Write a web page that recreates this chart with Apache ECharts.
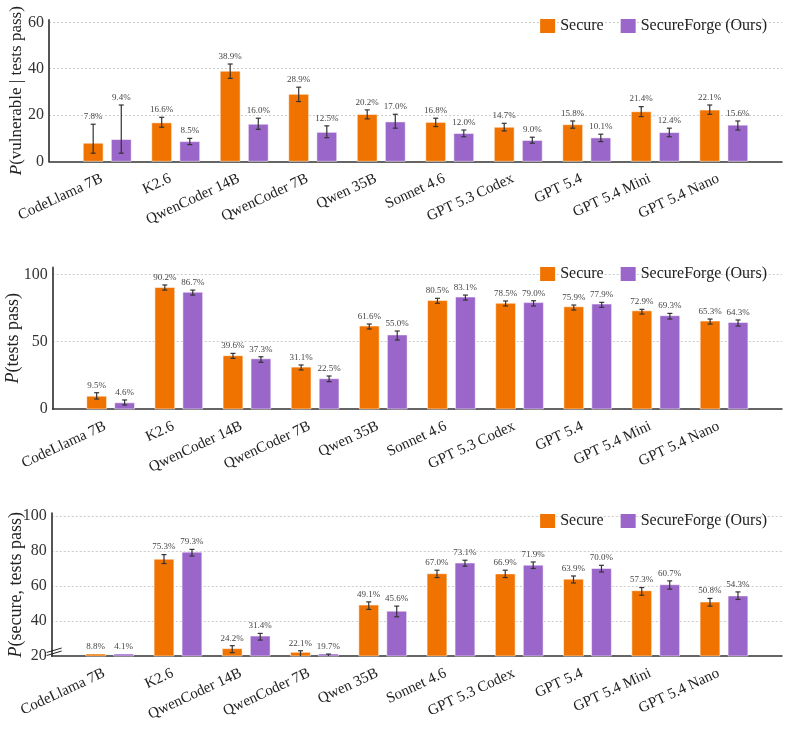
<!DOCTYPE html>
<html>
<head>
<meta charset="utf-8">
<script src="https://cdn.jsdelivr.net/npm/echarts@6/dist/echarts.min.js"></script>
<style>
  html, body { margin: 0; padding: 0; background: #fff; }
  #chart { width: 788px; height: 731px; }
</style>
</head>
<body>
<div id="chart"></div>
<script>
// 模型名称
const categories = ["CodeLlama 7B", "K2.6", "QwenCoder 14B", "QwenCoder 7B", "Qwen 35B",
    "Sonnet 4.6", "GPT 5.3 Codex", "GPT 5.4", "GPT 5.4 Mini", "GPT 5.4 Nano"];
const seriesNames = ["Secure", "SecureForge (Ours)"];

// P(vulnerable | tests pass)
const vulnSecure = [7.8, 16.6, 38.9, 28.9, 20.2, 16.8, 14.7, 15.8, 21.4, 22.1];
const vulnSecureLo = [3.5, 14.7, 35.8, 25.8, 18.3, 15.0, 13.1, 14.3, 19.3, 20.3];
const vulnSecureHi = [16.0, 19.0, 42.0, 32.0, 22.2, 18.6, 16.4, 17.4, 23.6, 24.3];
const vulnForge = [9.4, 8.5, 16.0, 12.5, 17.0, 12.0, 9.0, 10.1, 12.4, 15.6];
const vulnForgeLo = [3.5, 7.2, 13.8, 10.2, 14.3, 10.6, 7.8, 8.5, 10.6, 13.5];
const vulnForgeHi = [24.3, 9.9, 18.6, 15.3, 20.3, 13.5, 10.4, 11.7, 14.3, 17.4];

// P(tests pass)
const passSecure = [9.5, 90.2, 39.6, 31.1, 61.6, 80.5, 78.5, 75.9, 72.9, 65.3];
const passSecureLo = [7.4, 88.3, 37.6, 29.0, 59.4, 78.5, 76.5, 73.5, 70.5, 63.1];
const passSecureHi = [12.1, 92.1, 41.3, 32.7, 63.1, 82.2, 80.2, 77.2, 74.0, 66.8];
const passForge = [4.6, 86.7, 37.3, 22.5, 55.0, 83.1, 79.0, 77.9, 69.3, 64.3];
const passForgeLo = [3.0, 84.6, 34.7, 20.3, 51.2, 80.9, 76.5, 75.5, 66.8, 61.6];
const passForgeHi = [6.7, 88.3, 38.8, 24.5, 57.9, 84.6, 80.4, 79.2, 71.0, 66.1];

// P(secure, tests pass)
const bothSecure = [8.8, 75.3, 24.2, 22.1, 49.1, 67.0, 66.9, 63.9, 57.3, 50.8];
const bothSecureLo = [6.0, 72.8, 21.9, 19.5, 46.6, 64.8, 64.8, 61.7, 54.7, 48.5];
const bothSecureHi = [12.0, 77.9, 25.9, 23.0, 50.9, 69.0, 69.0, 65.7, 59.1, 52.9];
const bothForge = [4.1, 79.3, 31.4, 19.7, 45.6, 73.1, 71.9, 70.0, 60.7, 54.3];
const bothForgeLo = [2.5, 77.1, 29.1, 18.3, 42.4, 71.3, 70.0, 68.0, 58.2, 52.3];
const bothForgeHi = [6.5, 80.9, 32.9, 21.1, 48.5, 74.7, 73.7, 71.8, 62.9, 56.6];

const FONT = '"Liberation Serif", "DejaVu Serif", serif';
const ORANGE = "#F07300";
const PURPLE = "#9B66CA";
const X_MIN = -0.85;
const X_MAX = 9.85;

// 每个面板: y 轴范围与标题
const panels = [
    { name: "{i|P}(vulnerable | tests pass)", min: 0, max: 61, interval: 20, top: 20, height: 141.3, left: 49, nameGap: 24, legendTop: 13, nameSize: 17,
      data: [[vulnSecure, vulnSecureLo, vulnSecureHi], [vulnForge, vulnForgeLo, vulnForgeHi]] },
    { name: "{i|P}(tests pass)", min: 0, max: 105, interval: 50, top: 267.6, height: 141.4, left: 52.7, nameGap: 30, legendTop: 261, nameSize: 18,
      data: [[passSecure, passSecureLo, passSecureHi], [passForge, passForgeLo, passForgeHi]] },
    { name: "{i|P}(secure, tests pass)", min: 20, max: 101.5, interval: 20, top: 513.3, height: 142.7, left: 51.7, nameGap: 26, legendTop: 508, nameSize: 18,
      data: [[bothSecure, bothSecureLo, bothSecureHi], [bothForge, bothForgeLo, bothForgeHi]] },
];

// 柱子 + 误差线 + 数值标签
function makeRender(side, yMin) {
    return function (params, api) {
        const x = api.value(0);
        const v = api.value(1);
        const lo = api.value(2);
        const hi = api.value(3);
        const unit = api.size([1, 0])[0];
        const basePt = api.coord([x, yMin]);
        const cx = basePt[0] + side * unit * 0.205;
        const w = unit * 0.29;
        const base = basePt[1];
        const top = Math.min(api.coord([x, Math.max(v, yMin)])[1], base - 2);
        const children = [{
            type: "rect",
            shape: { x: cx - w / 2, y: top, width: w, height: base - top },
            style: { fill: api.visual("color"), stroke: "rgba(255,255,255,0.5)", lineWidth: 1 },
        }];
        let labelY = top;
        if (hi > yMin) {
            const yHi = api.coord([x, hi])[1];
            const yLo = api.coord([x, Math.max(lo, yMin)])[1];
            const errStyle = { stroke: "#333", lineWidth: 1.2 };
            children.push({ type: "line", shape: { x1: cx, y1: yHi, x2: cx, y2: yLo }, style: errStyle });
            children.push({ type: "line", shape: { x1: cx - 2.5, y1: yHi, x2: cx + 2.5, y2: yHi }, style: errStyle });
            if (lo >= yMin) {
                children.push({ type: "line", shape: { x1: cx - 2.5, y1: yLo, x2: cx + 2.5, y2: yLo }, style: errStyle });
            }
            labelY = Math.min(yHi, top);
        }
        children.push({
            type: "text",
            style: {
                text: v.toFixed(1) + "%", x: cx, y: labelY - 3,
                align: "center", verticalAlign: "bottom",
                font: "9px " + FONT, fill: "#444",
            },
        });
        return { type: "group", children: children };
    };
}

const grid = [], xAxis = [], yAxis = [], legend = [], series = [];
panels.forEach(function (p, k) {
    grid.push({ left: p.left, right: 6, top: p.top, height: p.height, outerBoundsMode: "none" });
    xAxis.push({
        type: "value", gridIndex: k, min: X_MIN, max: X_MAX,
        axisLine: { show: true, onZero: false, lineStyle: { color: "#333", width: 1.5 } },
        axisTick: { show: false },
        splitLine: { show: false },
        axisLabel: {
            customValues: categories.map(function (c, i) { return i; }),
            formatter: function (val) { return categories[Math.round(val)]; },
            rotate: 25, margin: 14, padding: [0, 6, 0, 0],
            fontFamily: FONT, fontSize: 15, color: "#222",
        },
    });
    yAxis.push({
        type: "value", gridIndex: k, min: p.min, max: p.max, interval: p.interval,
        name: p.name, nameLocation: "middle", nameGap: p.nameGap, nameRotate: 90,
        nameMoveOverlap: false,
        nameTextStyle: {
            fontFamily: FONT, fontSize: p.nameSize, color: "#222",
            rich: { i: { fontFamily: FONT, fontSize: p.nameSize, fontStyle: "italic", color: "#222" } },
        },
        axisLine: { show: true, onZero: false, lineStyle: { color: "#555", width: 2 } },
        axisTick: { show: false },
        axisLabel: { fontFamily: FONT, fontSize: 16, color: "#333", margin: 5, showMaxLabel: false },
        splitLine: {
            show: true, showMinLine: false, showMaxLine: false,
            lineStyle: { color: "#ccc", type: [2, 2], width: 1 },
        },
    });
    legend.push({
        data: seriesNames, right: 16, top: p.legendTop,
        icon: "rect", itemWidth: 15, itemHeight: 14, itemGap: 17,
        textStyle: { fontFamily: FONT, fontSize: 16, color: "#222" },
    });
    [ORANGE, PURPLE].forEach(function (color, s) {
        const vals = p.data[s];
        series.push({
            type: "custom", name: seriesNames[s],
            xAxisIndex: k, yAxisIndex: k,
            itemStyle: { color: color },
            renderItem: makeRender(s === 0 ? -1 : 1, p.min),
            encode: { x: 0, y: 1 },
            data: categories.map(function (c, i) { return [i, vals[0][i], vals[1][i], vals[2][i]]; }),
        });
    });
});

const chart = echarts.init(document.getElementById("chart"), null, { renderer: "canvas" });
chart.setOption({
    animation: false,
    backgroundColor: "#fff",
    grid: grid, xAxis: xAxis, yAxis: yAxis, legend: legend, series: series,
});

// 第三个面板 y 轴断裂标记
const bp = chart.convertToPixel({ gridIndex: 2 }, [X_MIN, panels[2].min]);
chart.setOption({
    graphic: [
        { type: "line", shape: { x1: bp[0] - 5, y1: bp[1] - 3.5, x2: bp[0] + 10, y2: bp[1] - 8 }, style: { stroke: "#222", lineWidth: 1 }, z: 10 },
        { type: "line", shape: { x1: bp[0] - 5, y1: bp[1] - 0.5, x2: bp[0] + 10, y2: bp[1] - 5 }, style: { stroke: "#222", lineWidth: 1 }, z: 10 },
    ],
});
</script>
</body>
</html>
